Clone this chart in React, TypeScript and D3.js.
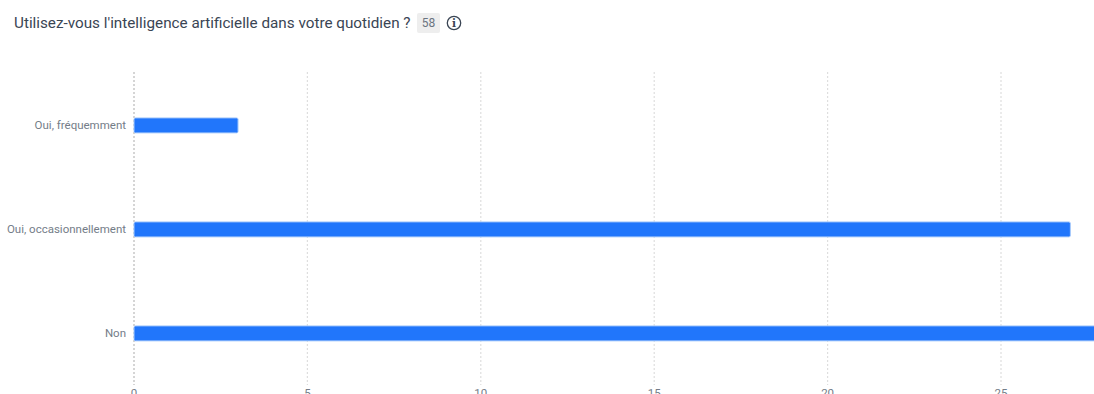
import React, { useEffect, useRef } from "react";
import * as d3 from "d3";

const title = "Utilisez-vous l'intelligence artificielle dans votre quotidien ?";
const responseCount = "58";
const categories = ["Oui, fréquemment", "Oui, occasionnellement", "Non"];
const counts = [3, 27, 28];
const xTicks = [0, 5, 10, 15, 20, 25];

const FONT = "Roboto, 'Noto Sans', sans-serif";

export default function App() {
  const svgRef = useRef<SVGSVGElement>(null);

  useEffect(() => {
    if (!svgRef.current) return;
    const svg = d3.select(svgRef.current);
    svg.selectAll("*").remove();

    // Scales
    const xScale = d3.scaleLinear().domain([0, 25]).range([134, 1001]);
    const yScale = d3.scaleBand<string>().domain(categories).range([73.4, 385.4]);
    const barHeight = 15;

    // Title row
    svg.append("text")
      .attr("x", 14)
      .attr("y", 28)
      .attr("fill", "#3a4554")
      .style("font-family", FONT)
      .style("font-size", "15.25px")
      .text(title);

    svg.append("rect")
      .attr("x", 417)
      .attr("y", 13)
      .attr("width", 23)
      .attr("height", 20)
      .attr("rx", 2)
      .attr("fill", "#eeeeee");

    svg.append("text")
      .attr("x", 428.5)
      .attr("y", 27)
      .attr("text-anchor", "middle")
      .attr("fill", "#6b7480")
      .style("font-family", FONT)
      .style("font-size", "12px")
      .text(responseCount);

    // Info icon
    svg.append("circle")
      .attr("cx", 454)
      .attr("cy", 23)
      .attr("r", 6.7)
      .attr("fill", "none")
      .attr("stroke", "#3a4554")
      .attr("stroke-width", 1.3);

    svg.append("text")
      .attr("x", 454)
      .attr("y", 27)
      .attr("text-anchor", "middle")
      .attr("fill", "#3a4554")
      .style("font-family", "'DejaVu Serif', serif")
      .style("font-size", "10.5px")
      .style("font-weight", "bold")
      .text("i");

    // Grid
    svg.append("g")
      .selectAll("line")
      .data(xTicks)
      .join("line")
      .attr("x1", (d) => xScale(d))
      .attr("x2", (d) => xScale(d))
      .attr("y1", 72)
      .attr("y2", 385)
      .attr("stroke", (d) => (d === 0 ? "#c4c4c4" : "#dedede"))
      .attr("stroke-width", (d) => (d === 0 ? 1.4 : 1.2))
      .attr("stroke-dasharray", "2,2");

    // Bars
    svg.append("g")
      .selectAll("rect")
      .data(counts)
      .join("rect")
      .attr("x", xScale(0))
      .attr("y", (_, i) => (yScale(categories[i]) ?? 0) + yScale.bandwidth() / 2 - barHeight / 2)
      .attr("width", (d) => xScale(d) - xScale(0))
      .attr("height", barHeight)
      .attr("rx", 1.5)
      .attr("fill", "#2176fb")
      .attr("stroke", "#a9cbfb")
      .attr("stroke-width", 1);

    // Category labels
    svg.append("g")
      .selectAll("text")
      .data(categories)
      .join("text")
      .attr("x", 126)
      .attr("y", (d) => (yScale(d) ?? 0) + yScale.bandwidth() / 2 + 4)
      .attr("text-anchor", "end")
      .attr("fill", "#747d88")
      .style("font-family", FONT)
      .style("font-size", "11.5px")
      .text((d) => d);

    // X axis labels, the bottom edge of the picture cuts them off
    svg.append("g")
      .selectAll("text")
      .data(xTicks)
      .join("text")
      .attr("x", (d) => xScale(d))
      .attr("y", 397)
      .attr("text-anchor", "middle")
      .attr("fill", "#747d88")
      .style("font-family", FONT)
      .style("font-size", "11.5px")
      .text((d) => d);
  }, []);

  return (
    <svg
      ref={svgRef}
      width={1094}
      height={394}
      style={{ display: "block", position: "fixed", left: 0, top: 0, background: "#fff" }}
    />
  );
}
